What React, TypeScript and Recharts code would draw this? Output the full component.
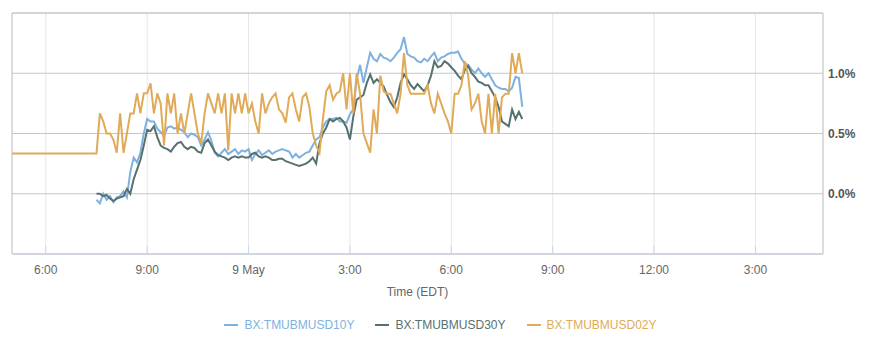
import React from 'react';
import { LineChart, Line, XAxis, YAxis, CartesianGrid, Legend, ReferenceArea } from 'recharts';

// hours counted from midnight 8 May (EDT); 41 = 5pm on 9 May
const xTicks = [18, 21, 24, 27, 30, 33, 36, 39];
const xTickLabels = ['6:00', '9:00', '9 May', '3:00', '6:00', '9:00', '12:00', '3:00'];
const yTicks = [0, 0.5, 1.0];

// quotes every 6 minutes from 19:30 on 8 May
const quoteStart = 19.5;
const quoteStep = 0.1;

const tmubmusd10y = [
  -0.05, -0.08, 0.0, -0.05, -0.02, -0.07, -0.03, -0.02, 0.02, -0.03,
  0.18, 0.3, 0.26, 0.34, 0.5, 0.62, 0.6, 0.6, 0.54, 0.51,
  0.48, 0.55, 0.56, 0.54, 0.55, 0.53, 0.51, 0.47, 0.5, 0.49,
  0.47, 0.4, 0.45, 0.51, 0.44, 0.34, 0.31, 0.34, 0.37, 0.33,
  0.35, 0.37, 0.33, 0.36, 0.35, 0.37, 0.28, 0.33, 0.36, 0.32,
  0.34, 0.36, 0.33, 0.35, 0.36, 0.37, 0.36, 0.35, 0.3, 0.33,
  0.3, 0.32, 0.34, 0.35, 0.4, 0.45, 0.47, 0.55, 0.6, 0.62,
  0.62, 0.63, 0.6, 0.6, 0.59, 0.66, 0.7, 0.95, 1.07, 0.92,
  1.05, 1.17, 1.12, 1.1, 1.16, 1.13, 1.12, 1.1, 1.13, 1.17,
  1.2, 1.3, 1.16, 1.14, 1.13, 1.1, 1.09, 1.12, 1.1, 1.14,
  1.17, 1.1, 1.13, 1.14, 1.16, 1.17, 1.17, 1.18, 1.12, 1.08,
  1.07, 1.03, 1.0, 1.04, 1.0, 0.97, 1.0, 0.95, 0.9, 0.88,
  0.87, 0.87, 0.85, 0.88, 0.97, 0.96, 0.72,
];

const tmubmusd30y = [
  0.0, 0.0, -0.02, -0.01, -0.04, -0.06, -0.04, -0.03, -0.02, 0.04,
  0.0, 0.12, 0.2, 0.28, 0.4, 0.53, 0.52, 0.56, 0.47, 0.4,
  0.38, 0.37, 0.35, 0.39, 0.42, 0.43, 0.39, 0.37, 0.39, 0.38,
  0.35, 0.34, 0.42, 0.45, 0.4, 0.35, 0.32, 0.31, 0.3, 0.28,
  0.3, 0.31, 0.3, 0.31, 0.3, 0.3, 0.33, 0.34, 0.31, 0.3,
  0.31, 0.3, 0.28, 0.28, 0.29, 0.29, 0.27, 0.26, 0.25, 0.24,
  0.23, 0.24, 0.25, 0.27, 0.3, 0.25, 0.42, 0.5, 0.55, 0.62,
  0.6, 0.62, 0.63, 0.6, 0.55, 0.45, 0.64, 0.78, 0.8, 0.82,
  0.92, 0.99, 0.92, 0.95, 0.92, 0.89, 0.82, 0.76, 0.72, 0.8,
  0.92, 0.99, 0.95, 0.9, 0.87, 0.91, 0.88, 0.85, 0.9, 0.98,
  1.1, 1.05, 1.06, 1.1, 1.08, 1.05, 1.02, 0.98, 0.95, 1.03,
  1.06, 1.0, 0.97, 0.93, 0.92, 0.9, 0.9, 0.85, 0.8, 0.72,
  0.6, 0.58, 0.56, 0.7, 0.62, 0.68, 0.62,
];

const tmubmusd02y = [
  0.333, 0.667, 0.6, 0.5, 0.5, 0.45, 0.34, 0.667, 0.34, 0.5,
  0.667, 0.667, 0.833, 0.667, 0.833, 0.833, 0.917, 0.667, 0.833, 0.75,
  0.4, 0.833, 0.667, 0.833, 0.5, 0.667, 0.5, 0.667, 0.833, 0.667,
  0.5, 0.42, 0.667, 0.833, 0.75, 0.667, 0.833, 0.667, 0.833, 0.36,
  0.833, 0.667, 0.833, 0.667, 0.833, 0.667, 0.75, 0.6, 0.5, 0.833,
  0.667, 0.75, 0.8, 0.833, 0.7, 0.667, 0.59, 0.8, 0.833, 0.7,
  0.6, 0.8, 0.833, 0.72, 0.5, 0.4, 0.34, 0.62, 0.85, 0.9,
  0.78, 0.83, 0.85, 1.0, 0.7, 1.0, 0.667, 1.0, 0.83, 0.5,
  0.42, 0.34, 0.7, 0.5, 0.98, 0.85, 0.83, 0.83, 0.75, 0.667,
  0.83, 1.167, 0.9, 0.83, 0.83, 0.83, 0.83, 0.83, 0.9, 0.75,
  0.667, 0.83, 0.75, 0.667, 0.6, 0.5, 0.83, 0.83, 0.9, 1.1,
  0.98, 0.7, 0.75, 0.83, 0.6, 0.5, 0.83, 0.5, 0.83, 0.5,
  0.8, 0.83, 0.83, 1.167, 1.0, 1.167, 1.0,
];
// the 2Y series is flat at this level from the start of the window
const tmubmusd02yOpen = 0.333;
const windowStart = 17;
const windowEnd = 41;

const series = [
  { key: 'y10', name: 'BX:TMUBMUSD10Y', color: '#7fb1e0' },
  { key: 'y30', name: 'BX:TMUBMUSD30Y', color: '#56716f' },
  { key: 'y02', name: 'BX:TMUBMUSD02Y', color: '#e0aa58' },
];

const data = [
  { t: windowStart, y10: null, y30: null, y02: tmubmusd02yOpen },
  ...tmubmusd10y.map((v, i) => ({
    t: +(quoteStart + i * quoteStep).toFixed(2),
    y10: v,
    y30: tmubmusd30y[i],
    y02: tmubmusd02y[i],
  })),
];

const XTick = (props: any) => {
  const { x, y, payload } = props;
  const idx = xTicks.indexOf(payload.value);
  return (
    <g>
      <line x1={x} x2={x} y1={y - 8} y2={y} stroke="#ccd6eb" />
      <text x={x} y={y + 20} textAnchor="middle" fill="#666" fontSize={12}>
        {xTickLabels[idx]}
      </text>
    </g>
  );
};

const LegendContent = () => (
  <div style={{ display: 'flex', justifyContent: 'center', paddingLeft: 12, paddingTop: 4, height: 34, boxSizing: 'content-box' }}>
    {series.map((s, i) => (
      <div key={s.key} style={{ display: 'flex', alignItems: 'center', marginLeft: i === 0 ? 0 : 21, height: 14 }}>
        <span style={{ display: 'inline-block', width: 14, height: 2, background: s.color, marginRight: 6 }} />
        <span style={{ color: s.color, fontSize: 12, fontFamily: 'Liberation Sans, Arial, sans-serif' }}>{s.name}</span>
      </div>
    ))}
  </div>
);

export default function App() {
  return (
    <div style={{ position: 'absolute', left: 0, top: 0, width: 869, height: 352, background: '#fff', fontFamily: 'Liberation Sans, Arial, sans-serif' }}>
      <LineChart width={869} height={352} data={data} margin={{ top: 13, right: 0, left: 12, bottom: 0 }}>
        <CartesianGrid vertical={true} horizontal={false} stroke="#e6e6e6" />
        <CartesianGrid vertical={false} horizontal={true} stroke="#c6c6c6" />
        <ReferenceArea x1={windowStart} x2={windowEnd} y1={-0.5} y2={1.5} fill="none" stroke="#c6c6c6" />
        <XAxis
          type="number"
          dataKey="t"
          domain={[windowStart, windowEnd]}
          ticks={xTicks}
          allowDataOverflow
          height={60}
          tickSize={0}
          tickMargin={0}
          axisLine={{ stroke: '#ccd6eb' }}
          tick={<XTick />}
          label={{ value: 'Time (EDT)', position: 'insideBottom', offset: 18, fill: '#666', fontSize: 12 }}
        />
        <YAxis
          orientation="right"
          domain={[-0.5, 1.5]}
          ticks={yTicks}
          allowDataOverflow
          width={46}
          axisLine={false}
          tickLine={false}
          tickSize={4}
          tickMargin={1}
          tickFormatter={(v: number) => v.toFixed(1) + '%'}
          tick={{ fill: '#555', fontSize: 12, fontWeight: 'bold', textAnchor: 'start' }}
        />
        <Legend verticalAlign="bottom" height={38} content={<LegendContent />} wrapperStyle={{ left: 0, width: 869 }} />
        {series.map((s) => (
          <Line
            key={s.key}
            type="linear"
            dataKey={s.key}
            name={s.name}
            stroke={s.color}
            strokeWidth={2}
            dot={false}
            activeDot={false}
            isAnimationActive={false}
          />
        ))}
      </LineChart>
    </div>
  );
}
